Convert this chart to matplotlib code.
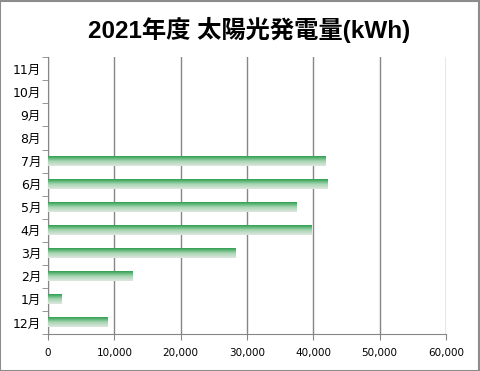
import matplotlib
matplotlib.use("Agg")
import matplotlib.pyplot as plt
import numpy as np
from matplotlib.colors import LinearSegmentedColormap
from matplotlib.patches import Rectangle

plt.rcParams['font.family'] = ['DejaVu Sans', 'Noto Sans CJK JP']

months = ['12月', '1月', '2月', '3月', '4月', '5月', '6月', '7月', '8月', '9月', '10月', '11月']
values = [9000, 2100, 12700, 28200, 39700, 37400, 42200, 41800, 0, 0, 0, 0]
xticks = [0, 10000, 20000, 30000, 40000, 50000, 60000]
title = '2021年度 太陽光発電量(kWh)'

fig = plt.figure(figsize=(4.8, 3.71), dpi=100)
ax = fig.add_axes([0.1, 0.0997, 0.829, 0.746])

cmap = LinearSegmentedColormap.from_list('g', ['#dfe6df', '#a6d6b2', '#2e9e4f'])
grad = np.linspace(0, 1, 64).reshape(-1, 1)
h = 0.4
y = np.arange(len(months))
for yi, v in zip(y, values):
    if v > 0:
        ax.imshow(grad, cmap=cmap, aspect='auto', origin='lower',
                  extent=[0, v, yi - h / 2, yi + h / 2], zorder=3, interpolation='bilinear')

ax.set_xlim(0, 60000)
ax.set_ylim(-0.5, len(months) - 0.5)
ax.set_xticks(xticks)
ax.set_xticklabels([f'{t:,}' for t in xticks], fontsize=7.5)
ax.set_yticks(y)
ax.set_yticklabels(months, fontsize=9)
ax.set_yticks(np.arange(-0.5, len(months)), minor=True)
ax.tick_params(axis='y', which='major', length=0, pad=5)
ax.tick_params(axis='y', which='minor', length=4, color='#868686', direction='out')
ax.tick_params(axis='x', length=4, color='#868686', direction='out', pad=6)
ax.grid(axis='x', color='#868686', linewidth=1, zorder=0)
ax.set_axisbelow(True)
for s in ['top', 'right']:
    ax.spines[s].set_visible(False)
for s in ['left', 'bottom']:
    ax.spines[s].set_color('#868686')

fig.text(0.52, 0.918, title, ha='center', va='center', fontsize=17.5, fontweight='bold',
         family=['Liberation Sans', 'Noto Sans CJK JP'])
fig.patches.append(Rectangle((0.001, 0.001), 0.997, 0.997, transform=fig.transFigure,
                             fill=False, edgecolor='#8c8c8c', linewidth=1.5))
fig.savefig('out.png', dpi=100)
